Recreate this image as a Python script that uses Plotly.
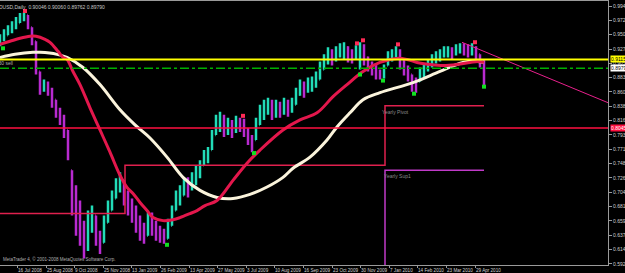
import plotly.graph_objects as go

# ---------------- data ----------------
bar_index = list(range(0, 485, 4))
close = [.9429, .9492, .9587, .9618, .9681, .9775, .9807, .9681, .9429, .9037,
         .8675, .8707, .8644, .8487, .8329, .8204, .8047, .7701, .7072, .6679,
         .6522, .6208, .6444, .6679, .6365, .6208, .6444, .6758, .6915, .7104,
         .7229, .6994, .6836, .6758, .6569, .6475, .6365, .6569, .6522, .6412,
         .6365, .6318, .6475, .6679, .6915, .6994, .7151, .7104, .7229, .7308,
         .7418, .7575, .7622, .7858, .8094, .8172, .8047, .8094, .8015, .8125,
         .8094, .8015, .7889, .7779, .8047, .8251, .8329, .8408, .8298, .8361,
         .8329, .8408, .8361, .8408, .8565, .8675, .8644, .8722, .8769, .8801,
         .8958, .9084, .9194, .9146, .9194, .9272, .9304, .9194, .9146, .9241,
         .9272, .9146, .9037, .8958, .8927, .8864, .8927, .9115, .9178, .9241,
         .9084, .8989, .8879, .8722, .8675, .8879, .8958, .9021, .9084, .9146,
         .9194, .9225, .9241, .9209, .9272, .9304, .9272, .9241, .9272, .9194,
         .9084, .8754]
high = [.9508, .9587, .9649, .9712, .9775, .9838, .9845, .9807, .9618, .9398,
        .8927, .8801, .8769, .8675, .8487, .8361, .8251, .8015, .7386, .7151,
        .6915, .6601, .6758, .6836, .6679, .6444, .6679, .6915, .7072, .7261,
        .7355, .7229, .7072, .6946, .6836, .6679, .6569, .6726, .6726, .6601,
        .6522, .6475, .6632, .6836, .7072, .7151, .7261, .7276, .7355, .7465,
        .7544, .7701, .7748, .8015, .8251, .8298, .8251, .8204, .8172, .8235,
        .8204, .8188, .8047, .7937, .8204, .8408, .8487, .8518, .8487, .8487,
        .8455, .8518, .8487, .8518, .8675, .8801, .8769, .8832, .8848, .8927,
        .9084, .9194, .9304, .9272, .9319, .9367, .9382, .9319, .9272, .9335,
        .9382, .9351, .9162, .9084, .9052, .8958, .9037, .9241, .9272, .9319,
        .9272, .9115, .9021, .8879, .8832, .8989, .9052, .9115, .9194, .9241,
        .9272, .9319, .9319, .9304, .9351, .9367, .9367, .9351, .9367, .9319,
        .9194, .9115]
low = [.9319, .9398, .9492, .9524, .9587, .9681, .9712, .9587, .9335, .8879,
       .8565, .8612, .8549, .8361, .8204, .8094, .7889, .7544, .6679, .6365,
       .6208, .6009, .6129, .6412, .6208, .6082, .6255, .6569, .6758, .6946,
       .7041, .6836, .6679, .6569, .6412, .6286, .6239, .6365, .6365, .6286,
       .6255, .6239, .6318, .6522, .6758, .6836, .6994, .6962, .7072, .7151,
       .7261, .7465, .7496, .7701, .7937, .7984, .7905, .7937, .7889, .7968,
       .7984, .7905, .7779, .7669, .7858, .8094, .8172, .8251, .8172, .8204,
       .8204, .8251, .8219, .8282, .8408, .8549, .8518, .8597, .8612, .8675,
       .8801, .8958, .9037, .9021, .9084, .9146, .9115, .9068, .9052, .9115,
       .8958, .9021, .8927, .8864, .8801, .8801, .8817, .9021, .9084, .9146,
       .8958, .8864, .8769, .8612, .8597, .8769, .8832, .8927, .8989, .9052,
       .9084, .9146, .9146, .9115, .9178, .9209, .9178, .9146, .9178, .9084,
       .8989, .8707]
first_open = .9380

red_ma_x = [0, 10, 20, 30, 36, 45, 50, 58, 63, 67, 73, 80, 90, 100, 110, 120, 127,
            133, 140, 147, 153, 163, 173, 180, 190, 197, 205, 217, 233, 247, 260, 283,
            300, 317, 333, 347, 363, 380, 397, 407, 417, 430, 443, 457, 470, 478, 484]
red_ma = [.9351, .9398, .9445, .9477, .9477, .9429, .9382, .9241, .9146, .9115, .8927,
          .8722, .8361, .8015, .7669, .7308, .7119, .7025, .6884, .6758, .6648, .6601,
          .6616, .6648, .6711, .6758, .6836, .6915, .7229, .7496, .7701, .8015, .8172,
          .8282, .8534, .8722, .8927, .9068, .9131, .9115, .9068, .9037, .9021, .9037,
          .9068, .9084, .9068]
white_ma_x = [0, 15, 33, 40, 57, 67, 83, 100, 120, 135, 150, 167, 183, 200, 217, 233,
              250, 267, 283, 293, 310, 327, 337, 350, 363, 380, 413, 440, 463, 477, 484]
white_ma = [.9146, .9194, .9225, .9225, .9194, .9146, .8989, .8722, .8329, .8094, .7889,
            .7591, .7276, .7072, .6962, .6946, .7010, .7125, .7276, .7418, .7591, .7858,
            .8062, .8282, .8487, .8597, .8754, .8927, .9068, .9084, .9068]

fractal_up_x = [25, 243, 357, 363, 398, 475]
fractal_up = [.9870, .8235, .9365, .9413, .9350, .9383]
fractal_dn_x = [3, 167, 254, 360, 383, 414, 484]
fractal_dn = [.9288, .6224, .7654, .8879, .8785, .8580, .8690]

pivot_x = [0, 125, 385, 484]
pivot = [.6711, .7465, .8392, .8392]
sup1_x = [385, 385, 484]
sup1 = [.5700, .7386, .7386]

trend_x = [462, 608]
trend = [.9382, .8440]

level_yellow = .9115
level_bid = .8979
level_red = .8045

price_ticks = [0.99480, 0.97245, 0.95010, 0.92775, 0.90540, 0.88305, 0.86070, 0.83835,
               0.81600, 0.79365, 0.77130, 0.74895, 0.72660, 0.70425, 0.68190, 0.65955,
               0.63720, 0.61485, 0.59250]
date_ticks = [17, 46, 74, 103, 131, 160, 189, 217, 246, 274, 303, 332, 360, 389, 417, 446, 475]
date_labels = ["16 Jul 2008", "25 Aug 2008", "9 Oct 2008", "25 Nov 2008", "13 Jan 2009",
               "26 Feb 2009", "13 Apr 2009", "27 May 2009", "3 Jul 2009", "10 Aug 2009",
               "16 Sep 2009", "23 Oct 2009", "30 Nov 2009", "7 Jan 2010", "14 Feb 2010",
               "23 Mar 2010", "29 Apr 2010"]

# ---------------- figure ----------------
opens = []
prev = first_open
for c, h, l in zip(close, high, low):
    opens.append(min(max(prev, l), h))
    prev = c

FONT = "Liberation Sans"
fig = go.Figure()

fig.add_trace(go.Ohlc(x=bar_index, open=opens, high=high, low=low, close=close,
                      increasing=dict(line=dict(color="#22dcb8", width=2.5)),
                      decreasing=dict(line=dict(color="#b82ad0", width=2.5)),
                      tickwidth=0.15, hoverinfo="skip"))

fig.add_trace(go.Scatter(x=pivot_x, y=pivot, mode="lines", line_shape="hv",
                         line=dict(color="#e0204e", width=1.5)))
fig.add_trace(go.Scatter(x=sup1_x, y=sup1, mode="lines",
                         line=dict(color="#c03ac8", width=1.5)))

fig.add_trace(go.Scatter(x=white_ma_x, y=white_ma, mode="lines", line_shape="spline",
                         line=dict(color="#fbf4dc", width=3)))
fig.add_trace(go.Scatter(x=red_ma_x, y=red_ma, mode="lines", line_shape="spline",
                         line=dict(color="#e3174c", width=3)))

fig.add_trace(go.Scatter(x=trend_x, y=trend, mode="lines",
                         line=dict(color="#e8208c", width=1), cliponaxis=True))

fig.add_trace(go.Scatter(x=fractal_up_x, y=fractal_up, mode="markers",
                         marker=dict(symbol="square", size=4, color="#ff2a55")))
fig.add_trace(go.Scatter(x=fractal_dn_x, y=fractal_dn, mode="markers",
                         marker=dict(symbol="square", size=4, color="#10e020")))

# horizontal level lines
fig.add_shape(type="line", xref="paper", x0=0, x1=1, y0=level_yellow, y1=level_yellow,
              line=dict(color="#ffff00", width=2))
fig.add_shape(type="line", xref="paper", x0=0, x1=1, y0=level_bid, y1=level_bid,
              line=dict(color="#00b000", width=1.5, dash="dashdot"))
fig.add_shape(type="line", xref="paper", x0=0, x1=1, y0=level_red, y1=level_red,
              line=dict(color="#ff1040", width=1.5))

ann = []
# price boxes on the right axis
for val, bg, fc in [(level_yellow, "#ffff00", "#000000"),
                    (level_bid, "#ffffff", "#000000"),
                    (level_red, "#ff1040", "#ffffff")]:
    ann.append(dict(xref="paper", x=1, xanchor="left", xshift=2, yref="y", y=val,
                    text=f"{val:.5f}", showarrow=False, bgcolor=bg, borderpad=0,
                    font=dict(family=FONT, size=5, color=fc)))
ann += [
    dict(xref="paper", x=0, xanchor="left", xshift=-10, yref="paper", y=1, yanchor="top",
         yshift=-1, text="AUDUSD,Daily  0.90046 0.90060 0.89762 0.89790", showarrow=False,
         font=dict(family=FONT, size=5, color="#c8c8c8")),
    dict(xref="paper", x=0, xanchor="left", xshift=1, yref="paper", y=0, yanchor="bottom",
         yshift=1, text="MetaTrader 4, © 2001-2008 MetaQuotes Software Corp.", showarrow=False,
         font=dict(family=FONT, size=4.5, color="#b0b0b0")),
    dict(x=15, xanchor="right", yref="y", y=level_bid, yanchor="bottom", yshift=0,
         text="0.90330 sell", showarrow=False, font=dict(family=FONT, size=5, color="#b0b0b0")),
    dict(x=380, xanchor="left", y=pivot[-1], yanchor="top", yshift=-1, text="Yearly Pivot",
         showarrow=False, font=dict(family=FONT, size=5, color="#8a8a8a")),
    dict(x=382, xanchor="left", y=sup1[-1], yanchor="top", yshift=-1, text="Yearly Sup1",
         showarrow=False, font=dict(family=FONT, size=5, color="#8a8a8a")),
    dict(x=-12, xanchor="left", xshift=2, yref="paper", y=0, yanchor="top", yshift=-1,
         text="29 May 2008", showarrow=False, font=dict(family=FONT, size=4.6, color="#d0d0d0")),
]

fig.update_layout(
    width=625, height=273, margin=dict(l=0, r=17, t=1, b=8, autoexpand=False),
    paper_bgcolor="#000000", plot_bgcolor="#000000", showlegend=False,
    annotations=ann, hovermode=False,
    xaxis=dict(range=[0, 608], showgrid=False, zeroline=False, rangeslider=dict(visible=False),
               tickvals=date_ticks, ticktext=date_labels, ticks="outside", ticklen=2,
               tickangle=0, automargin=False,
               tickcolor="#9a9a9a", ticklabelposition="outside right",
               tickfont=dict(family=FONT, size=4.6, color="#d0d0d0"),
               showline=True, linecolor="#9a9a9a", linewidth=1, mirror=True),
    yaxis=dict(range=[0.5909, 1.0026], side="right", showgrid=False, zeroline=False,
               tickvals=price_ticks, ticktext=[f"{v:.5f}" for v in price_ticks],
               ticks="outside", ticklen=3, tickcolor="#9a9a9a", automargin=False,
               tickfont=dict(family=FONT, size=5, color="#d0d0d0"),
               showline=True, linecolor="#9a9a9a", linewidth=1),
)

fig.write_html("out.html")
